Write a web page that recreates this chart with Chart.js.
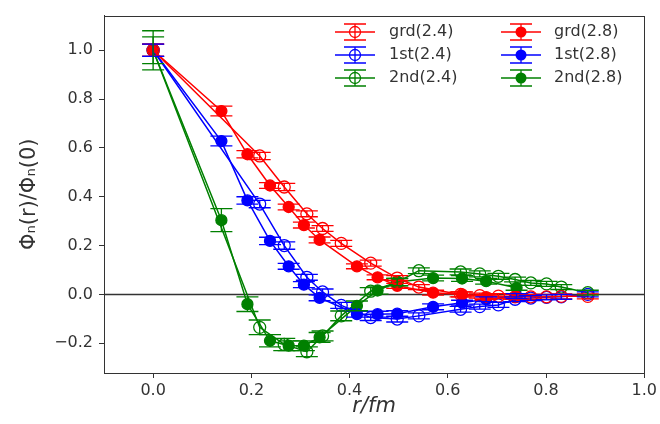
<!DOCTYPE html>
<html><head><meta charset="utf-8">
<script src="https://cdn.jsdelivr.net/npm/chart.js@4/dist/chart.umd.min.js"></script>
<style>html,body{margin:0;padding:0;background:#fff;}</style>
</head><body>
<canvas id="c" width="660" height="424"></canvas>
<script>
// r values (fm) for the two lattices
const r28 = [0, 0.139, 0.192, 0.238, 0.276, 0.307, 0.339, 0.415, 0.457, 0.497, 0.570, 0.629, 0.678, 0.740];
const r24 = [0, 0.217, 0.267, 0.313, 0.345, 0.383, 0.443, 0.497, 0.541, 0.626, 0.665, 0.703, 0.737, 0.769, 0.801, 0.831, 0.885];

// beta = 2.8 (filled markers)
const grd28 = [1.0, 0.751, 0.574, 0.446, 0.358, 0.284, 0.223, 0.115, 0.070, 0.035, 0.007, 0.000, -0.011, -0.010];
const st28  = [1.0, 0.628, 0.385, 0.219, 0.115, 0.040, -0.014, -0.081, -0.081, -0.079, -0.051, -0.034, -0.020, -0.007];
const nd28  = [1.0, 0.304, -0.040, -0.190, -0.210, -0.210, -0.176, -0.047, 0.016, 0.051, 0.067, 0.065, 0.054, 0.027];
const grd28Err = [0.025, 0.02, 0.015, 0.012, 0.012, 0.012, 0.012, 0.01, 0.01, 0.01, 0.01, 0.01, 0.01, 0.01];
const st28Err  = [0.025, 0.02, 0.015, 0.015, 0.012, 0.012, 0.012, 0.012, 0.012, 0.012, 0.012, 0.01, 0.01, 0.01];
const nd28Err  = [0.055, 0.047, 0.03, 0.025, 0.02, 0.02, 0.02, 0.02, 0.015, 0.015, 0.012, 0.012, 0.012, 0.01];

// beta = 2.4 (open markers)
const grd24 = [1.0, 0.567, 0.440, 0.330, 0.270, 0.209, 0.128, 0.067, 0.030, 0.000, -0.005, -0.007, -0.010, -0.010, -0.010, -0.008, -0.008];
const st24  = [1.0, 0.370, 0.200, 0.070, 0.010, -0.045, -0.095, -0.101, -0.088, -0.061, -0.050, -0.043, -0.020, -0.015, -0.012, -0.010, 0.000];
const nd24  = [1.0, -0.135, -0.205, -0.235, -0.170, -0.088, 0.013, 0.050, 0.097, 0.092, 0.084, 0.074, 0.061, 0.047, 0.043, 0.030, 0.007];
const grd24Err = [0.025, 0.015, 0.015, 0.012, 0.012, 0.012, 0.012, 0.01, 0.01, 0.01, 0.01, 0.01, 0.01, 0.01, 0.01, 0.01, 0.01];
const st24Err  = [0.025, 0.015, 0.015, 0.012, 0.012, 0.012, 0.012, 0.012, 0.012, 0.012, 0.01, 0.01, 0.01, 0.01, 0.01, 0.01, 0.01];
const nd24Err  = [0.08, 0.03, 0.025, 0.02, 0.02, 0.02, 0.015, 0.015, 0.012, 0.012, 0.012, 0.012, 0.01, 0.01, 0.01, 0.01, 0.01];

const xTicks = [0.0, 0.2, 0.4, 0.6, 0.8, 1.0];
const yTicks = [-0.2, 0.0, 0.2, 0.4, 0.6, 0.8, 1.0];
const labels = ['grd(2.4)', '1st(2.4)', '2nd(2.4)', 'grd(2.8)', '1st(2.8)', '2nd(2.8)'];

const RED = '#ff0000', BLUE = '#0000ff', GREEN = '#008000';
const FONT = "'DejaVu Sans', sans-serif";
const TXT = '#333333';

function pts(xs, ys) { return xs.map((x, i) => ({x: x, y: ys[i]})); }
function ds(label, xs, ys, errs, color, filled) {
  return {
    label: label, data: pts(xs, ys), errors: errs, filled: filled,
    showLine: true, borderColor: color, borderWidth: 1.5,
    backgroundColor: filled ? color : 'rgba(0,0,0,0)',
    pointBackgroundColor: filled ? color : 'rgba(0,0,0,0)',
    pointBorderColor: color, pointBorderWidth: 1.3,
    pointRadius: filled ? 5.5 : 6, pointHoverRadius: 6, tension: 0
  };
}

const datasets = [
  ds(labels[0], r24, grd24, grd24Err, RED, false),
  ds(labels[1], r24, st24, st24Err, BLUE, false),
  ds(labels[2], r24, nd24, nd24Err, GREEN, false),
  ds(labels[3], r28, grd28, grd28Err, RED, true),
  ds(labels[4], r28, st28, st28Err, BLUE, true),
  ds(labels[5], r28, nd28, nd28Err, GREEN, true)
];

const CAP = 11;

const decor = {
  id: 'decor',
  beforeDatasetsDraw(chart) {
    const {ctx, chartArea: a, scales: {x, y}} = chart;
    ctx.save();
    const y0 = y.getPixelForValue(0);
    ctx.strokeStyle = '#333';
    ctx.lineWidth = 1.5;
    ctx.beginPath(); ctx.moveTo(a.left, y0); ctx.lineTo(a.right, y0); ctx.stroke();
    ctx.restore();
  },
  afterDatasetsDraw(chart) {
    const {ctx, chartArea: a, scales: {x, y}} = chart;
    ctx.save();
    chart.data.datasets.forEach((d, i) => {
      const meta = chart.getDatasetMeta(i);
      ctx.strokeStyle = d.borderColor;
      ctx.lineWidth = 1.3;
      meta.data.forEach((el, j) => {
        const v = d.data[j].y, e = d.errors[j];
        const px = el.x;
        const yt = y.getPixelForValue(v + e), yb = y.getPixelForValue(v - e);
        ctx.beginPath();
        ctx.moveTo(px, yt); ctx.lineTo(px, yb);
        ctx.moveTo(px - CAP, yt); ctx.lineTo(px + CAP, yt);
        ctx.moveTo(px - CAP, yb); ctx.lineTo(px + CAP, yb);
        ctx.stroke();
      });
    });
    ctx.strokeStyle = '#333';
    ctx.lineWidth = 1;
    ctx.strokeRect(Math.round(a.left) + 0.5, Math.round(a.top) + 0.5, Math.round(a.right - a.left), Math.round(a.bottom - a.top));
    const cols = [{mx: 355, tx: 389}, {mx: 521, tx: 554}];
    const rows = [32, 55, 78];
    ctx.font = '16px ' + FONT;
    ctx.textBaseline = 'middle';
    ctx.textAlign = 'left';
    chart.data.datasets.forEach((d, i) => {
      const c = cols[Math.floor(i / 3)], ry = rows[i % 3];
      ctx.strokeStyle = d.borderColor;
      ctx.lineWidth = 1.5;
      ctx.beginPath(); ctx.moveTo(c.mx - 20, ry); ctx.lineTo(c.mx + 20, ry); ctx.stroke();
      ctx.lineWidth = 1.3;
      ctx.beginPath();
      ctx.moveTo(c.mx, ry - 8); ctx.lineTo(c.mx, ry + 8);
      ctx.moveTo(c.mx - CAP, ry - 8); ctx.lineTo(c.mx + CAP, ry - 8);
      ctx.moveTo(c.mx - CAP, ry + 8); ctx.lineTo(c.mx + CAP, ry + 8);
      ctx.stroke();
      ctx.beginPath(); ctx.arc(c.mx, ry, 5.5, 0, Math.PI * 2);
      if (d.filled) { ctx.fillStyle = d.borderColor; ctx.fill(); }
      else { ctx.stroke(); }
      ctx.fillStyle = TXT;
      ctx.fillText(d.label, c.tx, ry);
    });
    ctx.restore();
  }
};

function fmt(v) { return (Math.abs(v) < 1e-9 ? 0 : v).toFixed(1).replace('-', '\u2212'); }

new Chart(document.getElementById('c'), {
  type: 'scatter',
  data: {datasets: datasets},
  plugins: [decor],
  options: {
    responsive: false, animation: false,
    layout: {padding: {top: 12, right: 12, left: 0, bottom: 0}},
    plugins: {legend: {display: false}, tooltip: {enabled: false}},
    scales: {
      x: {
        type: 'linear', min: -0.1, max: 1.0,
        afterFit(s) { s.height = 51; },
        afterBuildTicks(s) { s.ticks = xTicks.map(v => ({value: v})); },
        grid: {display: true, drawOnChartArea: false, drawTicks: true, tickLength: 5, color: '#333'},
        border: {display: true, color: '#333', width: 1},
        ticks: {color: TXT, font: {family: FONT, size: 16}, padding: 3, maxRotation: 0, callback: v => fmt(v)},
        title: {display: true, text: 'r/fm', color: TXT, font: {family: FONT, size: 21, style: 'italic'}, padding: {top: 0, bottom: 5}}
      },
      y: {
        type: 'linear', min: -0.322, max: 1.142,
        afterFit(s) { s.width = 104; },
        afterBuildTicks(s) { s.ticks = yTicks.map(v => ({value: v})); },
        grid: {display: true, drawOnChartArea: false, drawTicks: true, tickLength: 5, color: '#333'},
        border: {display: true, color: '#333', width: 1},
        ticks: {color: TXT, font: {family: FONT, size: 16}, padding: 6, callback: v => fmt(v)},
        title: {display: true, text: 'Φₙ(r)/Φₙ(0)', color: TXT, font: {family: FONT, size: 21}, padding: {top: 17, bottom: 0}}
      }
    }
  }
});
</script>
</body></html>
